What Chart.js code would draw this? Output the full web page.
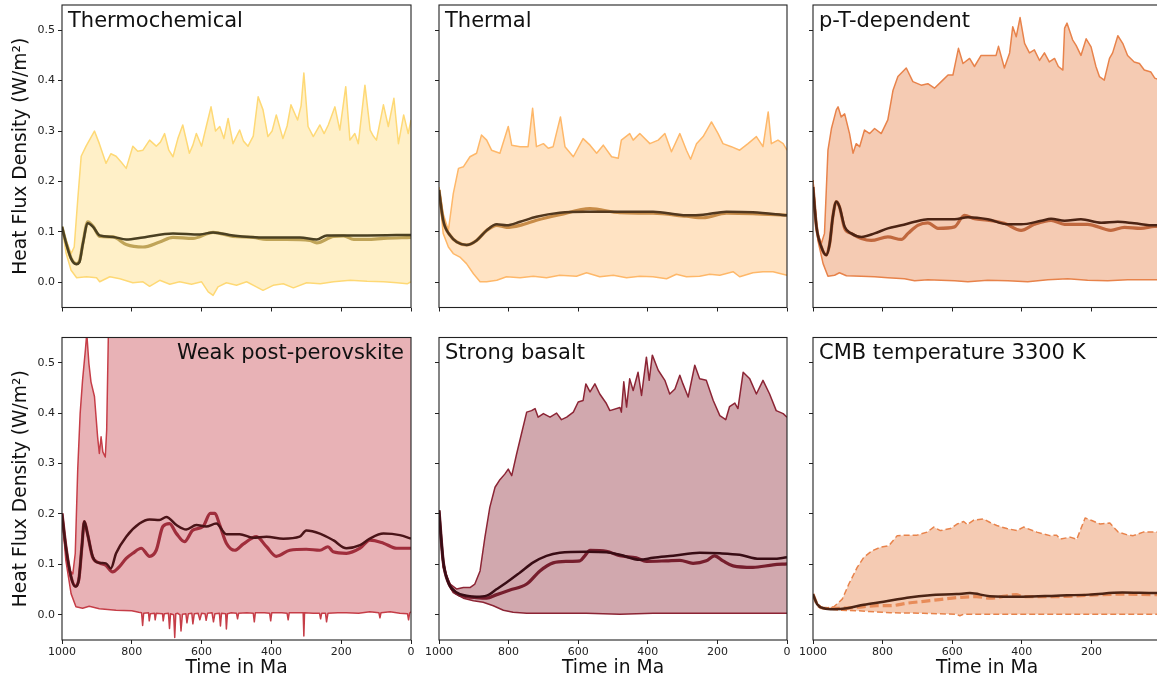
<!DOCTYPE html>
<html>
<head>
<meta charset="utf-8">
<title>Heat flux density</title>
<script src="https://cdn.jsdelivr.net/npm/chart.js@4.4.1/dist/chart.umd.min.js"></script>
<style>
  html, body { margin: 0; padding: 0; background: #fff; overflow: hidden; width: 1157px; height: 681px; }
  canvas { position: absolute; }
</style>
</head>
<body>
<script>
// axis ticks
const xTicks = [0, 200, 400, 600, 800, 1000];
const yTicks = [0, 0.1, 0.2, 0.3, 0.4, 0.5];

// Thermochemical
const tcMaxAge = [1000,988,974,965,955,945,931,907,893,874,860,845,830,816,797,783,768,749,730,718,706,694,682,668,654,635,625,615,600,587,573,560,548,536,524,510,491,480,467,452,438,424,410,398,386,367,355,344,325,315,307,295,280,261,249,237,218,204,187,175,161,151,132,117,108,99,79,65,49,36,21,8,0];
const tcMax = [0.11,0.083,0.057,0.07,0.163,0.25,0.27,0.30,0.275,0.236,0.255,0.25,0.238,0.226,0.27,0.26,0.262,0.282,0.27,0.278,0.295,0.262,0.249,0.285,0.312,0.256,0.272,0.295,0.27,0.308,0.348,0.3,0.309,0.285,0.325,0.275,0.302,0.28,0.27,0.29,0.368,0.342,0.289,0.3,0.332,0.285,0.31,0.352,0.322,0.35,0.415,0.309,0.289,0.312,0.295,0.312,0.348,0.302,0.388,0.282,0.295,0.275,0.391,0.302,0.29,0.282,0.352,0.309,0.365,0.275,0.332,0.295,0.322];
const tcMinAge = [1000,988,974,958,930,901,892,863,834,797,768,749,720,691,663,629,600,581,567,553,529,500,471,443,424,395,366,337,299,260,222,174,126,78,40,11,0];
const tcMin = [0.11,0.057,0.024,0.009,0.011,0.009,0.001,0.011,0.007,-0.001,0.001,-0.008,0.004,-0.004,0.001,-0.004,0.001,-0.019,-0.026,-0.009,-0.001,-0.006,0.001,-0.009,-0.016,-0.006,-0.003,-0.011,-0.001,-0.003,0.001,0.004,0.002,0.001,-0.001,-0.003,0.001];
const tcAvgAge = [1000,988,974,959,950,940,926,911,892,854,816,768,682,605,567,510,414,318,270,241,193,126,0];
const tcAvg = [0.11,0.077,0.047,0.036,0.04,0.077,0.117,0.11,0.093,0.09,0.085,0.089,0.097,0.095,0.099,0.093,0.089,0.089,0.085,0.093,0.093,0.093,0.094];
const tcMedAge = [1000,988,974,959,950,940,926,911,892,854,816,768,720,682,625,567,510,452,414,357,290,270,222,193,164,126,78,0];
const tcMed = [0.11,0.078,0.048,0.037,0.042,0.078,0.12,0.111,0.091,0.09,0.075,0.07,0.08,0.089,0.087,0.099,0.091,0.089,0.085,0.085,0.083,0.078,0.091,0.092,0.085,0.085,0.087,0.089];

// Thermal
const thMaxAge = [1000,988,973,959,944,930,911,892,878,863,849,825,801,791,767,744,731,720,700,686,672,651,638,614,586,566,547,528,504,485,476,452,442,423,394,370,351,332,308,289,277,260,241,217,198,184,160,136,112,88,69,54,45,26,11,0];
const thMax = [0.189,0.136,0.103,0.176,0.226,0.229,0.249,0.256,0.292,0.282,0.262,0.256,0.309,0.272,0.269,0.269,0.345,0.269,0.275,0.266,0.269,0.328,0.269,0.249,0.285,0.272,0.256,0.272,0.249,0.246,0.282,0.295,0.282,0.295,0.275,0.282,0.295,0.259,0.295,0.262,0.244,0.275,0.289,0.318,0.295,0.275,0.269,0.262,0.275,0.289,0.269,0.338,0.275,0.282,0.275,0.262];
const thMinAge = [1000,988,973,959,940,921,901,882,863,834,806,767,729,691,653,605,576,538,499,461,423,385,346,318,289,251,222,193,155,136,98,69,40,0];
const thMin = [0.183,0.097,0.07,0.057,0.05,0.037,0.017,0.001,0.001,0.004,0.011,0.009,0.012,0.009,0.014,0.012,0.019,0.011,0.014,0.009,0.012,0.011,0.007,0.016,0.011,0.012,0.016,0.014,0.021,0.011,0.019,0.021,0.021,0.014];
const thAvgAge = [1000,988,968,949,921,892,863,834,806,767,720,653,576,480,385,289,241,174,98,0];
const thAvg = [0.183,0.123,0.093,0.08,0.074,0.083,0.103,0.115,0.113,0.12,0.13,0.138,0.14,0.14,0.14,0.133,0.134,0.14,0.139,0.133];
const thMedAge = [1000,988,968,949,921,892,863,834,806,767,720,653,566,480,385,289,241,174,98,0];
const thMed = [0.183,0.123,0.093,0.08,0.074,0.083,0.103,0.113,0.109,0.113,0.123,0.134,0.146,0.138,0.137,0.131,0.128,0.137,0.136,0.133];

// p-T-dependent
const ptMaxAge = [1000,990,976,967,957,947,933,928,919,909,895,885,876,866,852,837,823,804,785,770,756,732,713,689,670,651,627,612,598,582,569,550,536,517,488,474,467,450,435,426,416,405,392,378,364,349,335,321,306,295,282,277,270,254,244,230,215,201,187,177,163,148,139,124,110,96,77,62,48,29,18,0];
const ptMax = [0.203,0.103,0.077,0.097,0.262,0.305,0.342,0.348,0.328,0.334,0.295,0.256,0.275,0.269,0.302,0.295,0.305,0.295,0.322,0.381,0.408,0.425,0.398,0.391,0.394,0.385,0.401,0.411,0.411,0.464,0.434,0.444,0.428,0.45,0.45,0.45,0.468,0.425,0.455,0.507,0.487,0.525,0.474,0.455,0.461,0.44,0.455,0.437,0.444,0.428,0.421,0.504,0.514,0.481,0.47,0.45,0.483,0.467,0.428,0.408,0.401,0.444,0.455,0.489,0.474,0.45,0.437,0.434,0.421,0.417,0.405,0.40];
const ptMinAge = [1000,986,971,957,938,924,904,861,823,785,737,708,670,632,593,555,498,440,383,325,268,211,153,96,18,0];
const ptMin = [0.203,0.083,0.037,0.012,0.014,0.019,0.013,0.012,0.011,0.009,0.007,0.003,0.005,0.004,0.003,0.001,0.004,0.003,0.001,0.005,0.007,0.004,0.003,0.005,0.005,0.005];
const ptAvgAge = [1000,990,976,962,952,943,933,924,909,890,861,823,785,746,708,670,593,555,498,440,402,344,316,277,230,172,124,77,18,0];
const ptAvg = [0.189,0.11,0.07,0.054,0.077,0.13,0.16,0.15,0.11,0.097,0.09,0.097,0.107,0.113,0.12,0.125,0.125,0.129,0.125,0.115,0.115,0.122,0.126,0.122,0.125,0.118,0.12,0.117,0.113,0.113];
const ptMedAge = [1000,990,976,962,952,943,933,924,909,890,861,833,785,746,727,699,670,641,593,565,536,498,450,402,364,316,277,211,144,105,58,18,0];
const ptMed = [0.189,0.11,0.07,0.054,0.077,0.13,0.16,0.15,0.107,0.097,0.087,0.083,0.09,0.085,0.097,0.113,0.118,0.107,0.11,0.133,0.126,0.123,0.117,0.103,0.115,0.123,0.115,0.115,0.103,0.109,0.107,0.111,0.111];

// Weak post-perovskite (maximum runs off the top after ~865 Ma)
const wpMaxAge = [1000,989,979,969,962,955,948,941,933,929,923,917,907,898,893,888,883,876,872,866,850,0];
const wpMax = [0.201,0.122,0.089,0.081,0.122,0.287,0.399,0.466,0.525,0.558,0.499,0.462,0.433,0.353,0.32,0.353,0.323,0.313,0.366,0.6,0.8,0.8];
const wpMinAge = [1000,989,974,960,941,922,893,845,800,780,772,769,766,752,750,747,735,733,730,712,710,707,695,692,689,680,677,674,668,662,659,655,645,642,638,628,625,621,610,605,600,590,587,583,570,566,562,549,546,543,531,529,526,515,500,497,494,470,452,449,446,420,405,402,399,370,355,352,349,320,309,307,305,280,262,259,256,245,242,238,210,185,150,118,92,89,86,60,32,10,7,4,0];
const wpMin = [0.201,0.108,0.042,0.016,0.013,0.017,0.012,0.009,0.008,0.005,0.004,-0.021,0.003,0.004,-0.012,0.002,0.003,-0.01,0.003,0.002,-0.012,0.002,0.003,-0.027,0.002,0.0,-0.045,0.002,0.003,0.0,-0.032,0.001,0.002,-0.016,0.002,0.003,-0.018,0.002,0.003,-0.01,0.003,0.002,-0.011,0.003,0.004,-0.014,0.002,0.003,-0.022,0.003,0.002,-0.028,0.002,0.004,0.003,-0.008,0.003,0.004,0.003,-0.014,0.004,0.004,0.003,-0.012,0.004,0.004,0.003,-0.01,0.004,0.004,0.004,-0.042,0.004,0.003,0.003,-0.008,0.003,0.003,-0.014,0.003,0.004,0.004,0.003,0.006,0.004,-0.006,0.004,0.006,0.003,0.002,-0.01,0.003,0.006];
const wpAvgAge = [1000,989,974,962,952,943,936,927,912,893,874,860,845,816,778,749,721,701,672,644,615,587,558,529,491,453,414,366,319,300,261,223,185,146,118,79,32,0];
const wpAvg = [0.201,0.135,0.075,0.056,0.069,0.135,0.185,0.161,0.115,0.103,0.102,0.092,0.122,0.155,0.181,0.189,0.188,0.194,0.178,0.169,0.178,0.175,0.181,0.16,0.16,0.153,0.155,0.151,0.155,0.167,0.161,0.148,0.132,0.138,0.151,0.161,0.158,0.151];
const wpMedAge = [1000,989,974,962,952,943,936,927,912,893,874,855,836,816,797,773,749,730,711,692,672,649,625,596,575,562,548,529,505,481,443,414,386,347,300,261,238,223,185,146,118,79,41,0];
const wpMed = [0.201,0.136,0.075,0.057,0.069,0.136,0.185,0.161,0.114,0.103,0.098,0.085,0.095,0.112,0.122,0.132,0.116,0.128,0.175,0.181,0.161,0.145,0.168,0.175,0.201,0.201,0.178,0.142,0.128,0.14,0.155,0.135,0.116,0.128,0.13,0.128,0.135,0.125,0.122,0.132,0.148,0.142,0.132,0.132];

// Strong basalt
const sbMaxAge = [1000,988,968,949,930,911,897,882,868,854,839,825,811,801,791,777,763,748,734,724,715,700,681,662,648,633,614,600,586,578,566,552,538,519,509,480,476,469,461,452,442,428,418,404,396,387,370,351,337,322,308,299,284,265,251,232,212,193,176,165,150,141,126,107,88,69,50,31,11,0];
const sbMax = [0.207,0.094,0.061,0.051,0.054,0.054,0.061,0.087,0.154,0.213,0.253,0.268,0.279,0.289,0.276,0.319,0.359,0.402,0.405,0.409,0.392,0.399,0.392,0.4,0.387,0.392,0.402,0.422,0.425,0.458,0.442,0.458,0.438,0.419,0.405,0.411,0.402,0.462,0.412,0.468,0.445,0.481,0.435,0.511,0.465,0.515,0.485,0.465,0.438,0.448,0.475,0.458,0.432,0.495,0.468,0.465,0.425,0.395,0.387,0.413,0.42,0.409,0.481,0.468,0.438,0.465,0.438,0.405,0.399,0.392];
const sbMinAge = [1000,988,973,959,930,901,873,844,815,787,748,672,576,480,385,289,193,98,0];
const sbMin = [0.207,0.107,0.061,0.044,0.033,0.028,0.025,0.018,0.009,0.005,0.003,0.003,0.003,0.001,0.003,0.003,0.003,0.003,0.003];
const sbAvgAge = [1000,988,973,949,921,892,863,834,806,767,729,691,653,576,519,480,423,385,327,251,193,136,79,40,0];
const sbAvg = [0.207,0.107,0.064,0.044,0.038,0.036,0.038,0.051,0.064,0.084,0.104,0.117,0.123,0.125,0.124,0.119,0.109,0.113,0.117,0.123,0.122,0.119,0.111,0.111,0.114];
const sbMedAge = [1000,988,973,949,921,892,863,834,796,748,710,672,633,595,581,566,519,480,433,404,347,308,270,232,208,184,155,98,40,0];
const sbMed = [0.207,0.106,0.064,0.042,0.036,0.034,0.033,0.04,0.049,0.061,0.087,0.103,0.106,0.107,0.117,0.128,0.126,0.117,0.113,0.106,0.107,0.108,0.102,0.107,0.117,0.107,0.097,0.094,0.099,0.101];

// CMB temperature 3300 K
const cmMaxAge = [1000,988,969,940,916,897,873,854,830,806,782,758,730,701,672,653,634,605,586,567,557,538,510,491,472,443,414,395,357,319,300,290,261,242,218,199,175,147,123,99,80,51,14,0];
const cmMax = [0.041,0.021,0.013,0.016,0.031,0.061,0.094,0.114,0.127,0.134,0.137,0.157,0.158,0.158,0.164,0.174,0.167,0.171,0.18,0.185,0.179,0.188,0.19,0.183,0.177,0.171,0.167,0.174,0.164,0.157,0.158,0.15,0.154,0.15,0.192,0.187,0.18,0.182,0.164,0.159,0.157,0.164,0.164,0.164];
const cmMinAge = [1000,988,969,921,873,778,683,587,578,568,397,206,111,14,0];
const cmMin = [0.041,0.021,0.013,0.009,0.008,0.004,0.003,0.001,-0.002,0.001,0.001,0.001,0.001,0.001,0.001];
const cmAvgAge = [1000,988,969,940,902,854,797,730,664,587,549,492,397,301,206,111,14,0];
const cmAvg = [0.041,0.021,0.013,0.011,0.013,0.02,0.026,0.034,0.039,0.041,0.043,0.037,0.036,0.038,0.04,0.044,0.043,0.043];
const cmMedAge = [1000,988,969,921,873,816,778,730,664,587,530,492,416,397,301,206,111,14,0];
const cmMed = [0.041,0.021,0.013,0.013,0.015,0.018,0.018,0.023,0.028,0.034,0.036,0.033,0.04,0.036,0.036,0.039,0.041,0.04,0.04];

// grid layout of the six panels (page pixels)
const colLeft = [62, 439, 813];
const colWidth = [349, 348, 348];
const plotH = 302.5;

const panels = [
  { title: 'Thermochemical', row: 0, col: 0,
    env: 'rgb(254,217,118)', fill: 'rgba(254,217,118,0.4)', dark: 'rgb(74,64,34)', light: 'rgb(192,164,88)',
    max: [tcMaxAge, tcMax], min: [tcMinAge, tcMin], avg: [tcAvgAge, tcAvg], med: [tcMedAge, tcMed] },
  { title: 'Thermal', row: 0, col: 1,
    env: 'rgb(254,184,106)', fill: 'rgba(254,184,106,0.4)', dark: 'rgb(82,56,30)', light: 'rgb(200,140,72)',
    max: [thMaxAge, thMax], min: [thMinAge, thMin], avg: [thAvgAge, thAvg], med: [thMedAge, thMed] },
  { title: 'p-T-dependent', row: 0, col: 2,
    env: 'rgb(232,131,75)', fill: 'rgba(232,131,75,0.42)', dark: 'rgb(76,36,20)', light: 'rgb(192,104,62)',
    max: [ptMaxAge, ptMax], min: [ptMinAge, ptMin], avg: [ptAvgAge, ptAvg], med: [ptMedAge, ptMed] },
  { title: 'Weak post-perovskite', row: 1, col: 0, alignRight: true,
    env: 'rgb(198,62,72)', fill: 'rgba(198,62,72,0.4)', dark: 'rgb(74,20,24)', light: 'rgb(160,46,60)',
    max: [wpMaxAge, wpMax], min: [wpMinAge, wpMin], avg: [wpAvgAge, wpAvg], med: [wpMedAge, wpMed] },
  { title: 'Strong basalt', row: 1, col: 1,
    env: 'rgb(140,37,53)', fill: 'rgba(140,37,53,0.4)', dark: 'rgb(56,12,20)', light: 'rgb(118,30,45)',
    max: [sbMaxAge, sbMax], min: [sbMinAge, sbMin], avg: [sbAvgAge, sbAvg], med: [sbMedAge, sbMed] },
  { title: 'CMB temperature 3300 K', row: 1, col: 2, dashed: true,
    env: 'rgb(232,131,75)', fill: 'rgba(232,131,75,0.42)', dark: 'rgb(76,36,20)', light: 'rgb(232,140,90)',
    max: [cmMaxAge, cmMax], min: [cmMinAge, cmMin], avg: [cmAvgAge, cmAvg], med: [cmMedAge, cmMed] }
];

const pts = ([ages, vals]) => ages.map((a, i) => ({ x: a, y: vals[i] }));

// box around the plot area plus the panel name
const panelFrame = {
  id: 'panelFrame',
  afterDatasetsDraw(chart, args, opts) {
    const { ctx, chartArea: a } = chart;
    ctx.save();
    ctx.strokeStyle = '#222';
    ctx.lineWidth = 1.1;
    ctx.strokeRect(a.left, a.top, a.right - a.left, a.bottom - a.top);
    ctx.fillStyle = '#111';
    ctx.font = '21px "DejaVu Sans"';
    ctx.textBaseline = 'alphabetic';
    if (opts.alignRight) {
      ctx.textAlign = 'right';
      ctx.fillText(opts.text, a.right - 7, a.top + 21);
    } else {
      ctx.textAlign = 'left';
      ctx.fillText(opts.text, a.left + 6, a.top + 21.5);
    }
    ctx.restore();
  }
};

const tickFont = { family: 'DejaVu Sans', size: 11 };
const labelFont = { family: 'DejaVu Sans', size: 18.7 };

panels.forEach(p => {
  const yW = p.col === 0 ? 62 : 26;
  const padTop = p.row === 0 ? 5 : 10.5;
  const cw = yW + colWidth[p.col] + 10;
  const ch = p.row === 0 ? 316 : 354;
  const xH = ch - padTop - plotH;

  const canvas = document.createElement('canvas');
  canvas.width = cw;
  canvas.height = ch;
  canvas.style.left = (colLeft[p.col] - yW) + 'px';
  canvas.style.top = (p.row === 0 ? 0 : 327) + 'px';
  document.body.appendChild(canvas);

  const envDash = p.dashed ? [6, 3] : [];

  new Chart(canvas.getContext('2d'), {
    type: 'line',
    data: {
      datasets: [
        { data: pts(p.avg), borderColor: p.dark, borderWidth: 2.5, cubicInterpolationMode: 'monotone' },
        { data: pts(p.med), borderColor: p.light, borderWidth: 3.2, cubicInterpolationMode: 'monotone', borderDash: p.dashed ? [9, 4] : [] },
        { data: pts(p.max), borderColor: p.env, borderWidth: 1.5, borderDash: envDash, fill: '+1', backgroundColor: p.fill },
        { data: pts(p.min), borderColor: p.env, borderWidth: 1.5, borderDash: envDash }
      ]
    },
    options: {
      responsive: false,
      animation: false,
      events: [],
      layout: { padding: { top: padTop, right: 10, bottom: 0, left: 0 } },
      elements: {
        point: { radius: 0 },
        line: { tension: 0, fill: false, borderJoinStyle: 'round' }
      },
      plugins: {
        legend: { display: false },
        tooltip: { enabled: false },
        panelFrame: { text: p.title, alignRight: !!p.alignRight }
      },
      scales: {
        x: {
          type: 'linear', min: 0, max: 1000, reverse: true,
          afterBuildTicks: s => { s.ticks = xTicks.map(v => ({ value: v })); },
          afterFit: s => {
            s.height = xH;
            s.paddingLeft = s.paddingRight = s.paddingTop = s.paddingBottom = 0;
          },
          grid: { drawOnChartArea: false, tickLength: 4, color: '#222', lineWidth: 1 },
          border: { display: false },
          ticks: { display: p.row === 1, padding: 2, color: '#222', font: tickFont, maxRotation: 0, autoSkip: false, callback: v => String(v) },
          title: { display: p.row === 1, text: 'Time in Ma', color: '#111', font: labelFont, padding: { top: 0, bottom: 2 } }
        },
        y: {
          type: 'linear', min: -0.05, max: 0.55,
          afterBuildTicks: s => { s.ticks = yTicks.map(v => ({ value: v })); },
          afterFit: s => {
            s.width = yW;
            s.paddingLeft = s.paddingRight = s.paddingTop = s.paddingBottom = 0;
          },
          grid: { drawOnChartArea: false, tickLength: 4, color: '#222', lineWidth: 1 },
          border: { display: false },
          ticks: { display: p.col === 0, padding: 3, color: '#222', font: tickFont, autoSkip: false, callback: v => v.toFixed(1) },
          title: { display: p.col === 0, text: 'Heat Flux Density (W/m²)', color: '#111', font: labelFont, padding: { top: 10, bottom: 0 } }
        }
      }
    },
    plugins: [panelFrame]
  });
});
</script>
</body>
</html>
